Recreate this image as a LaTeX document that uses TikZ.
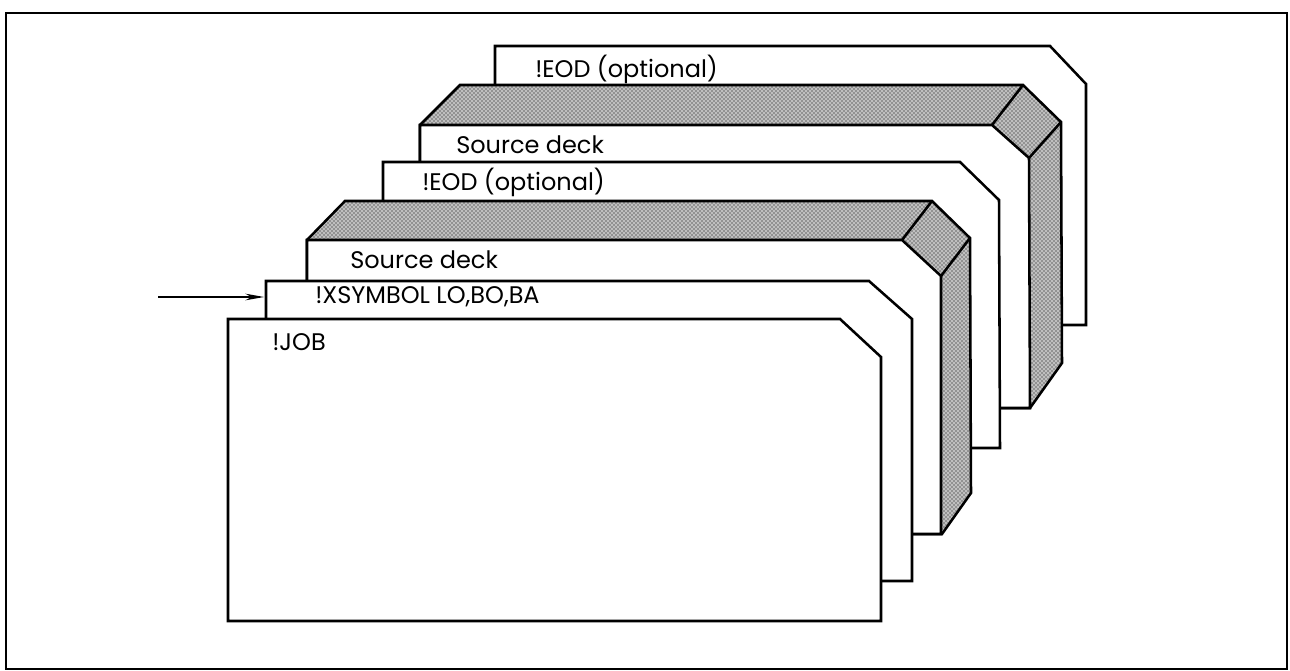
\documentclass[tikz,border=0pt]{standalone}
\usepackage{fontspec}
\setmainfont{Poppins}
\usetikzlibrary{arrows.meta, patterns}

\begin{document}
\begin{tikzpicture}[
x=0.75pt, y=-0.75pt,
    card/.style={draw, fill=white, line width=1.9pt, line join=miter},
    deckside/.style={draw, line width=1.9pt, line join=miter, preaction={fill=gray!50}, pattern=crosshatch dots},
    edge/.style={draw, line width=1.9pt},
    cardtext/.style={anchor=base west, inner sep=0pt, font=\fontsize{18}{20}\selectfont}
]

    % Frame
    \useasboundingbox (0,0) rectangle (1290,671);
    \draw[line width=1.5pt] (6,13) rectangle (1287,669);

    % Last card: !EOD
    \draw[card] (495,325) -- (495,46) -- (1050,46) -- (1086,84) -- (1086,325) -- cycle;
    \node[cardtext] (eodtop) at (535,77) {!EOD (optional)};

    % Upper source deck
    \draw[deckside] (420,125) -- (460,85) -- (1023,85) -- (1061,122) -- (1062,363) -- (1030,408) -- (420,408) -- cycle;
    \draw[card] (420,408) -- (420,125) -- (992,125) -- (1029,158) -- (1030,408) -- cycle;
    \draw[edge] (992,125) -- (1023,85);
    \draw[edge] (1029,158) -- (1061,122);
    \node[cardtext] (srctop) at (456,153) {Source deck};

    % Middle card: !EOD
    \draw[card] (383,448) -- (383,162) -- (960,162) -- (999,200) -- (1000,448) -- cycle;
    \node[cardtext] (eodmid) at (422,190) {!EOD (optional)};

    % Lower source deck
    \draw[deckside] (307,240) -- (345,201) -- (932,201) -- (970,238) -- (971,493) -- (942,534) -- (307,534) -- cycle;
    \draw[card] (307,534) -- (307,240) -- (902,240) -- (941,276) -- (941,534) -- cycle;
    \draw[edge] (902,240) -- (932,201);
    \draw[edge] (941,276) -- (970,238);
    \node[cardtext] (srcmid) at (350,268) {Source deck};

    % !XSYMBOL card
    \draw[card] (266,581) -- (266,281) -- (869,281) -- (912,319) -- (912,581) -- cycle;
    \node[cardtext] (xsym) at (315,303) {!XSYMBOL LO,BO,BA};
    \coordinate (xsymin) at (264,297);

    % First card: !JOB
    \draw[card] (228,621) -- (228,319) -- (840,319) -- (881,357) -- (881,621) -- cycle;
    \node[cardtext] (job) at (272,350) {!JOB};

    % Feed arrow
    \coordinate (feed) at (158,297);
    \draw[line width=0.8pt, -{Stealth[length=14pt, width=5pt]}] (feed) -- (xsymin);

\end{tikzpicture}
\end{document}
